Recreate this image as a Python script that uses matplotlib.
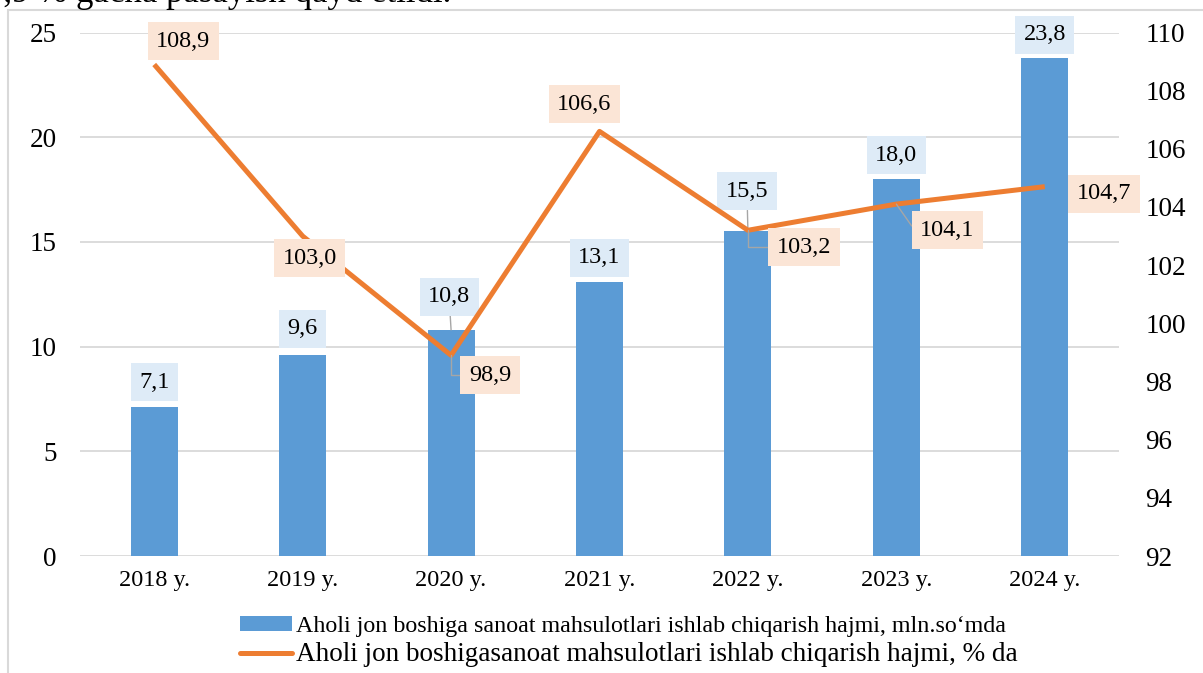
import matplotlib
matplotlib.use("Agg")
import matplotlib.pyplot as plt
from matplotlib.patches import Rectangle
from matplotlib.lines import Line2D

plt.rcParams['font.family'] = ['Liberation Serif', 'DejaVu Serif']

years = ['2018 y.', '2019 y.', '2020 y.', '2021 y.', '2022 y.', '2023 y.', '2024 y.']
volume = [7.1, 9.6, 10.8, 13.1, 15.5, 18.0, 23.8]
growth = [108.9, 103.0, 98.9, 106.6, 103.2, 104.1, 104.7]
volume_txt = ['7,1', '9,6', '10,8', '13,1', '15,5', '18,0', '23,8']
growth_txt = ['108,9', '103,0', '98,9', '106,6', '103,2', '104,1', '104,7']
bar_label = 'Aholi jon boshiga sanoat mahsulotlari ishlab chiqarish hajmi, mln.so\u2018mda'
line_label = 'Aholi jon boshigasanoat mahsulotlari ishlab chiqarish hajmi, % da'

BLUE = '#5B9BD5'
ORANGE = '#ED7D31'
GRID = '#D9D9D9'

W, H = 1203, 673
fig = plt.figure(figsize=(W / 100, H / 100), dpi=100)

# clipped sentence from the document above the chart
fig.text(-0.012, 1 - 2.5 / H, '3,9 % gacha pasayish qayd etildi.', fontsize=25,
         va='baseline', ha='left')
# chart border
fig.add_artist(Rectangle((8 / W, -0.05), 1.2, 1 - 10 / H + 0.05, transform=fig.transFigure,
                         fill=False, edgecolor=GRID, lw=1.5))

ax = fig.add_axes([80 / W, 1 - 556 / H, 1039 / W, 523.5 / H])
ax2 = ax.twinx()
ax.set_zorder(1)
ax2.set_zorder(2)
ax2.patch.set_visible(False)

x = list(range(len(years)))
ax.bar(x, volume, width=0.317, color=BLUE, zorder=2)
ax.set_ylim(0, 25)
ax.set_yticks(range(0, 26, 5))
ax.set_xlim(-0.5, len(years) - 0.5)
ax.set_xticks(x)
ax.set_xticklabels(years)
ax.yaxis.grid(True, color=GRID, lw=1.3)
ax.set_axisbelow(True)
ax.tick_params(axis='y', length=0, pad=17, labelsize=19.5)
ax.tick_params(axis='x', length=0, pad=10, labelsize=17.5)

ax2.plot(x, growth, color=ORANGE, lw=3.6, solid_capstyle='butt', zorder=3)
ax2.set_ylim(92, 110)
ax2.set_yticks(range(92, 111, 2))
ax2.tick_params(axis='y', length=0, pad=19, labelsize=19.5)

for a in (ax, ax2):
    for s in a.spines.values():
        s.set_visible(False)

lead = dict(arrowstyle='-', color='#A6A6A6', lw=1, shrinkA=0, shrinkB=0)

# bar value labels (offsets in pixels from bar top)
bar_off = [(0, 25), (0, 26), (-2, 33), (0, 24), (-1, 40), (0, 24), (0, 23)]
for i, (v, t) in enumerate(zip(volume, volume_txt)):
    dx, dy = bar_off[i]
    ap = lead if dy > 30 else None
    ax.annotate(t, (i, v), xytext=(dx, dy), textcoords='offset pixels',
                ha='center', va='center', fontsize=17.5, zorder=5,
                bbox=dict(boxstyle='square,pad=0.35', fc='#DEEBF7', ec='none'),
                arrowprops=ap)

# line value labels
line_off = [(29, 23), (7, -22), (39, -20), (-15, 27), (56, -17), (51, -26), (59, -7)]
line_conn = [None, None, 'angle,angleA=0,angleB=90', None,
             'angle,angleA=0,angleB=90', 'angle,angleA=0,angleB=125', None]
for i, (v, t) in enumerate(zip(growth, growth_txt)):
    dx, dy = line_off[i]
    ap = None
    if line_conn[i]:
        ap = dict(lead, connectionstyle=line_conn[i])
    ax2.annotate(t, (i, v), xytext=(dx, dy), textcoords='offset pixels',
                 ha='center', va='center', fontsize=17.5, zorder=6,
                 bbox=dict(boxstyle='square,pad=0.35', fc='#FBE5D6', ec='none'),
                 arrowprops=ap)

handles = [Rectangle((0, 0), 1, 1, fc=BLUE, ec='none'),
           Line2D([0], [0], color=ORANGE, lw=3.6, solid_capstyle='round')]
leg = fig.legend(handles, [bar_label, line_label], loc='upper left',
                 bbox_to_anchor=(240 / W, 1 - 616 / H), frameon=False,
                 fontsize=17.3, handlelength=2.15, handleheight=0.6,
                 handletextpad=0.2, labelspacing=0.2, borderpad=0, borderaxespad=0)
leg.get_texts()[1].set_fontsize(19.5)

fig.savefig('out.png', dpi=100)
